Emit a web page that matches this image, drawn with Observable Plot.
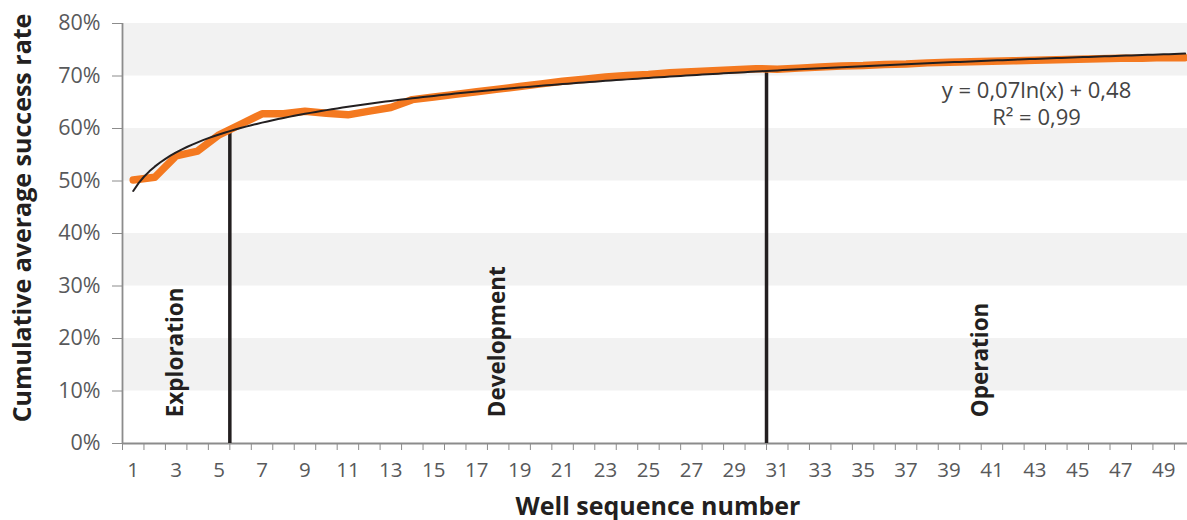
<!DOCTYPE html>
<html>
<head>
<meta charset="utf-8">
<script src="https://cdn.jsdelivr.net/npm/d3@7"></script>
<script src="https://cdn.jsdelivr.net/npm/@observablehq/plot@0.6"></script>
<style>
  html, body { margin: 0; padding: 0; background: #fff; overflow: hidden; }
  #chart { width: 1187px; height: 520px; overflow: hidden; }
</style>
</head>
<body>
<div id="chart"></div>
<script>
// ---- data ----
const wells = d3.range(1, 51);
const successRate = [
  50.2, 50.7, 54.8, 55.7, 58.8, 60.8, 62.8, 62.8, 63.3, 62.9,
  62.6, 63.3, 64.0, 65.5, 66.0, 66.5, 67.0, 67.5, 68.0, 68.5,
  69.0, 69.4, 69.8, 70.1, 70.3, 70.6, 70.8, 71.0, 71.2, 71.4,
  71.3, 71.5, 71.7, 71.9, 72.0, 72.2, 72.3, 72.5, 72.6, 72.7,
  72.8, 72.9, 73.0, 73.1, 73.2, 73.3, 73.4, 73.4, 73.5, 73.5
];
const yTicks = [0, 10, 20, 30, 40, 50, 60, 70, 80];
const xLabelTicks = d3.range(1, 50, 2);
const phases = ["Exploration", "Development", "Operation"];
const phaseLabelX = [3, 18, 40.5];
const phaseLabelY = [5, 5, 5];
const phaseBoundaries = [5.5, 30.5];
const boundaryTops = [60, 71.3];
const equationText = "y = 0,07ln(x) + 0,48\nR² = 0,99";

// ---- derived ----
const data = wells.map((w, i) => ({well: w, rate: successRate[i]}));
// least-squares logarithmic fit y = a ln(x) + b
const lx = data.map(d => Math.log(d.well));
const mx = d3.mean(lx), my = d3.mean(data, d => d.rate);
const a = d3.sum(data, (d, i) => (lx[i] - mx) * (d.rate - my)) / d3.sum(lx, v => (v - mx) ** 2);
const b = my - a * mx;
const trend = d3.range(1, 50.001, 0.25).map(x => ({well: x, rate: a * Math.log(x) + b}));

const xDomain = [0.5, 50.11];
const bands = [];
for (let i = 1; i < yTicks.length; i += 2) bands.push({y1: yTicks[i], y2: yTicks[i + 1]});
const xBoundaryTicks = d3.range(0.5, 50, 1);
const phaseRows = phases.map((p, i) => ({label: p, x: phaseLabelX[i], y: phaseLabelY[i]}));
const boundaryRows = phaseBoundaries.map((x, i) => ({x, top: boundaryTops[i]}));

const axisGray = "#8c8c8c";
const labelGray = "#58595b";
const dark = "#231f20";

const chart = Plot.plot({
  width: 1187,
  height: 520,
  marginLeft: 122,
  marginRight: 0,
  marginTop: 23,
  marginBottom: 77,
  style: {fontFamily: "'Open Sans', sans-serif", fontSize: "20px", background: "#fff", color: labelGray},
  x: {domain: xDomain},
  y: {domain: [0, 80]},
  marks: [
    Plot.rectY(bands, {x1: xDomain[0], x2: xDomain[1], y1: "y1", y2: "y2", fill: "#f2f2f2"}),
    Plot.axisY({ticks: yTicks, tickFormat: d => d + "%", tickSize: 10, tickPadding: 12,
      stroke: axisGray, fill: labelGray, fontSize: 21.5, label: null}),
    Plot.axisX({ticks: xBoundaryTicks, tickFormat: () => "", tickSize: 7, stroke: axisGray, label: null}),
    Plot.axisX({ticks: xLabelTicks, tickSize: 0, tickPadding: 19, fill: labelGray, fontSize: 20.5, label: null}),
    Plot.ruleX([xDomain[0]], {y1: 0, y2: 80, stroke: axisGray, strokeWidth: 1.8}),
    Plot.ruleY([0], {stroke: axisGray, strokeWidth: 1.8}),
    Plot.ruleX(boundaryRows, {x: "x", y1: 0, y2: "top", stroke: dark, strokeWidth: 3.5}),
    Plot.line(data, {x: "well", y: "rate", stroke: "#f47920", strokeWidth: 7.5, strokeLinejoin: "round", strokeLinecap: "round"}),
    Plot.line(trend, {x: "well", y: "rate", stroke: dark, strokeWidth: 2}),
    Plot.text(phaseRows, {x: "x", y: "y", text: "label", rotate: -90, textAnchor: "start",
      fontWeight: "bold", fontSize: 22.5, fill: dark}),
    Plot.text([equationText], {frameAnchor: "top-right", dx: -151, dy: 55, textAnchor: "middle",
      lineAnchor: "top", lineHeight: 1.23, fontSize: 22, fill: "#444"}),
    Plot.text(["Cumulative average success rate"], {frameAnchor: "left", dx: -100, dy: -15.5, rotate: -90,
      textAnchor: "middle", lineAnchor: "middle", fontWeight: "bold", fontSize: 25, fill: dark}),
    Plot.text(["Well sequence number"], {frameAnchor: "bottom", dx: 3, dy: 63, textAnchor: "middle",
      lineAnchor: "middle", fontWeight: "bold", fontSize: 25, fill: dark})
  ]
});
document.getElementById("chart").appendChild(chart);
</script>
</body>
</html>
